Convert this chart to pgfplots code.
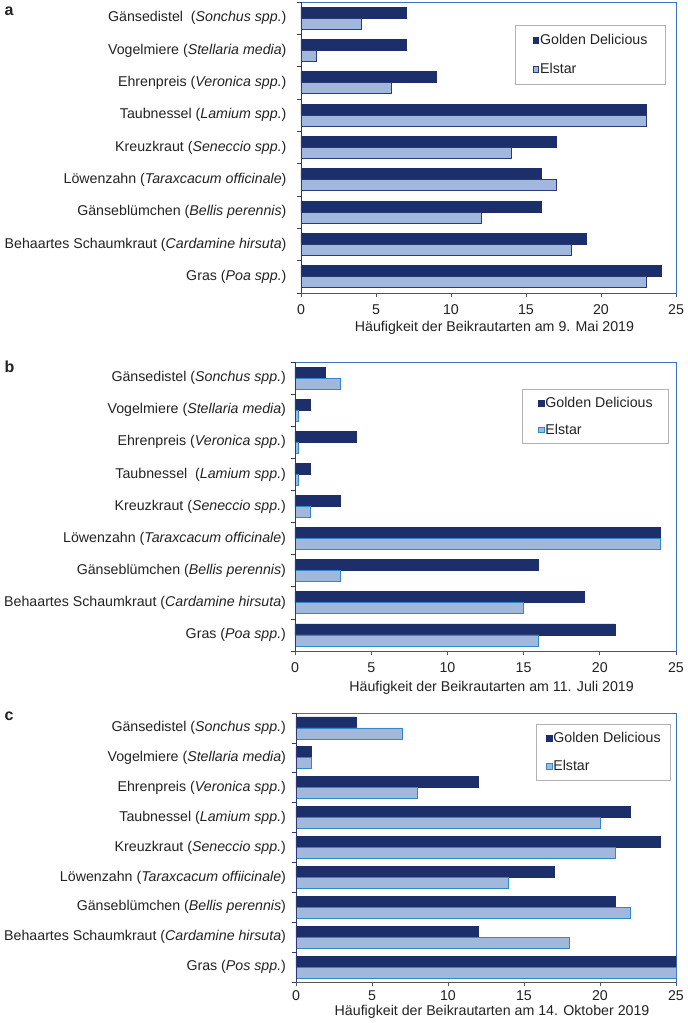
\documentclass[border=0pt]{standalone}
\usepackage{fontspec}
\setmainfont{Liberation Sans}
\usepackage{pgfplots}
\usepackage{pgfplotstable}
\pgfplotsset{compat=1.18}
\definecolor{barnavy}{HTML}{1C2F6B}
\definecolor{barlight}{HTML}{A1B8DC}
\definecolor{edgeblue}{HTML}{2F88C8}
\definecolor{frameblue}{HTML}{3F72BC}
\definecolor{axnavy}{HTML}{2B3A75}
\definecolor{axgray}{HTML}{555555}
\definecolor{textgray}{HTML}{222222}

\pgfplotstableread{
idx gd el
0 7 4
1 7 1
2 9 6
3 23 23
4 17 14
5 16 17
6 16 12
7 19 18
8 24 23
}\dataA
\pgfplotstableread{
idx gd el
0 2 3
1 1 0.2
2 4 0.2
3 1 0.2
4 3 1
5 24 24
6 16 3
7 19 15
8 21 16
}\dataB
\pgfplotstableread{
idx gd el
0 4 7
1 1 1
2 12 8
3 22 20
4 24 21
5 17 14
6 21 22
7 12 18
8 25 25
}\dataC

\pgfplotsset{
  panel/.style={
    scale only axis,
    xbar, bar width=11pt,
    xmin=0, xmax=25, ymin=-0.5, ymax=8.5, y dir=reverse,
    xtick={0,5,10,15,20,25},
    ytick={0,1,...,8},
    minor ytick={-0.5,0.5,...,8.5},
    xtick pos=bottom, ytick pos=left,
    tick align=outside,
    major tick length=4pt, minor tick length=4pt,
    major y tick style={draw=none},
    minor y tick style={draw=axnavy, line width=0.8pt},
    xtick style={draw=axgray, line width=0.8pt},
    axis line style={draw=frameblue, line width=0.8pt},
    tick label style={font=\fontsize{14.2}{16}\selectfont, text=textgray},
    /pgf/number format/assume math mode=true,
    label style={font=\fontsize{14.2}{16}\selectfont, text=textgray},
    legend style={draw=gray!60, line width=0.8pt, font=\fontsize{14.2}{16}\selectfont,
      text=textgray, anchor=north east, inner xsep=17pt, inner ysep=8pt, row sep=15pt,
      nodes={inner sep=1pt}, cells={anchor=west}},
    legend image code/.code={\draw[##1, line width=0.8pt] (0pt,-2.9pt) rectangle (5.8pt,2.9pt);},
    after end axis/.code={
      \draw[axnavy, line width=0.8pt] (axis description cs:0,0) -- (axis description cs:0,1);
      \draw[axgray, line width=0.8pt] (axis description cs:0,0) -- (axis description cs:1,0);
    },
  },
  gdbar/.style={fill=barnavy, draw=barnavy, line width=0.8pt, bar shift=5.5pt},
  elbar/.style={fill=barlight, draw=#1, line width=0.8pt, bar shift=-5.5pt},
}

\begin{document}
\begin{tikzpicture}
\path (0pt,0pt) rectangle (685pt,-1023pt);

% Panel a
\node[anchor=base west, font=\bfseries\fontsize{16}{18}\selectfont, text=textgray] at (1pt,-15pt) {a};
\begin{axis}[panel,
  at={(301pt,-293pt)}, anchor=south west, width=375pt, height=291pt,
  yticklabels={G\"ansedistel\ \ (\textit{Sonchus spp.}),
    Vogelmiere (\textit{Stellaria media}),
    Ehrenpreis (\textit{Veronica spp.}),
    Taubnessel (\textit{Lamium spp.}),
    Kreuzkraut (\textit{Seneccio spp.}),
    L\"owenzahn (\textit{Taraxcacum officinale}),
    G\"anseblümchen (\textit{Bellis perennis}),
    Behaartes Schaumkraut (\textit{Cardamine hirsuta}),
    Gras (\textit{Poa spp.})},
  yticklabel style={xshift=-7pt},
  xticklabel style={yshift=-4pt},
  xlabel={Häufigkeit der Beikrautarten am 9. Mai 2019},
  xlabel style={at={(axis description cs:0.516,0)}, anchor=center, yshift=-35pt},
  legend style={at={(axis description cs:0.973,0.921)}},
]
\addplot[gdbar] table[x=gd, y=idx] {\dataA};
\addplot[elbar=axnavy] table[x=el, y=idx] {\dataA};
\legend{Golden Delicious, Elstar}
\end{axis}

% Panel b
\node[anchor=base west, font=\bfseries\fontsize{16}{18}\selectfont, text=textgray] at (1pt,-372pt) {b};
\begin{axis}[panel,
  at={(295pt,-651pt)}, anchor=south west, width=381pt, height=289pt,
  yticklabels={G\"ansedistel (\textit{Sonchus spp.}),
    Vogelmiere (\textit{Stellaria media}),
    Ehrenpreis (\textit{Veronica spp.}),
    Taubnessel\ \ (\textit{Lamium spp.}),
    Kreuzkraut (\textit{Seneccio spp.}),
    L\"owenzahn (\textit{Taraxcacum officinale}),
    G\"anseblümchen (\textit{Bellis perennis}),
    Behaartes Schaumkraut (\textit{Cardamine hirsuta}),
    Gras (\textit{Poa spp.})},
  yticklabel style={xshift=-1.5pt},
  xticklabel style={yshift=-4pt},
  xlabel={Häufigkeit der Beikrautarten am 11. Juli 2019},
  xlabel style={at={(axis description cs:0.516,0)}, anchor=center, yshift=-37pt},
  legend style={at={(axis description cs:0.982,0.907)}, inner xsep=15pt, inner ysep=7pt, row sep=13pt},
]
\addplot[gdbar] table[x=gd, y=idx] {\dataB};
\addplot[elbar=edgeblue] table[x=el, y=idx] {\dataB};
\legend{Golden Delicious, Elstar}
\end{axis}

% Panel c
\node[anchor=base west, font=\bfseries\fontsize{16}{18}\selectfont, text=textgray] at (1pt,-720pt) {c};
\begin{axis}[panel,
  at={(296pt,-982pt)}, anchor=south west, width=380pt, height=269pt,
  yticklabels={G\"ansedistel (\textit{Sonchus spp.}),
    Vogelmiere (\textit{Stellaria media}),
    Ehrenpreis (\textit{Veronica spp.}),
    Taubnessel (\textit{Lamium spp.}),
    Kreuzkraut (\textit{Seneccio spp.}),
    L\"owenzahn (\textit{Taraxcacum offiicinale}),
    G\"anseblümchen (\textit{Bellis perennis}),
    Behaartes Schaumkraut (\textit{Cardamine hirsuta}),
    Gras (\textit{Pos spp.})},
  yticklabel style={xshift=-2.5pt},
  xticklabel style={yshift=-1pt},
  xlabel={Häufigkeit der Beikrautarten am 14. Oktober 2019},
  xlabel style={at={(axis description cs:0.516,0)}, anchor=center, yshift=-30pt},
  legend style={at={(axis description cs:0.987,0.959)}, inner xsep=9pt, inner ysep=7pt, row sep=14pt},
]
\addplot[gdbar] table[x=gd, y=idx] {\dataC};
\addplot[elbar=edgeblue] table[x=el, y=idx] {\dataC};
\legend{Golden Delicious, Elstar}
\end{axis}
\end{tikzpicture}
\end{document}
